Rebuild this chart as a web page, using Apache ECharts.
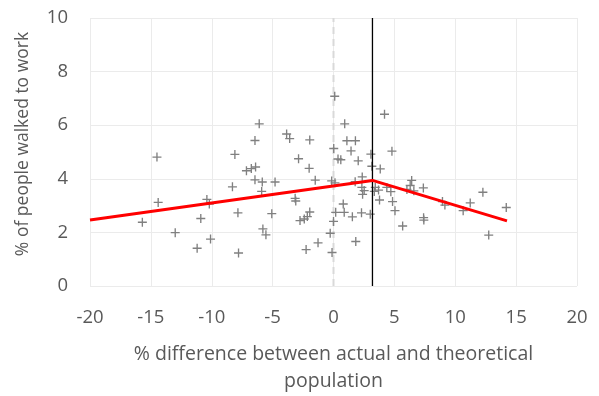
<!DOCTYPE html>
<html>
<head>
<meta charset="utf-8">
<script src="https://cdn.jsdelivr.net/npm/echarts@6/dist/echarts.min.js"></script>
<style>html,body{margin:0;padding:0;background:#fff;}#c{width:599px;height:396px;}</style>
</head>
<body>
<div id="c"></div>
<script>
var xVals = [-15.7,-14.5,-14.4,-13.0,-11.2,-10.9,-10.4,-10.2,-10.1,-8.1,-8.3,-7.85,-7.8,-7.15,-6.75,-6.4,-6.1,-6.45,-6.45,-5.85,-5.9,-4.8,-5.07,-5.8,-5.55,-3.85,-3.6,-1.95,-2.87,-2.0,-1.5,-3.15,-3.1,-1.95,-2.15,-2.4,-2.75,-1.27,-2.25,-0.27,-0.12,0.1,0.02,-0.15,0.12,0.18,0.0,0.37,0.6,0.92,1.1,1.8,1.44,2.03,3.07,3.15,3.84,4.8,4.19,2.36,1.78,0.8,0.88,1.55,2.3,3.02,1.83,2.33,2.52,2.39,3.43,3.35,3.7,4.38,4.71,3.78,4.85,5.05,5.68,6.42,6.3,6.6,6.03,7.38,7.4,7.42,8.95,9.15,10.65,11.23,12.27,12.75,14.19];
var yVals = [2.38,4.81,3.12,1.99,1.41,2.52,3.23,3.06,1.75,4.91,3.7,2.73,1.23,4.3,4.38,4.44,6.05,5.43,3.96,3.88,3.53,3.88,2.7,2.13,1.91,5.67,5.5,5.45,4.75,4.39,3.95,3.27,3.17,2.76,2.59,2.5,2.44,1.61,1.36,1.97,1.25,7.08,5.13,3.92,3.85,2.75,2.41,4.74,4.71,6.05,5.42,5.42,5.04,4.67,4.92,4.47,4.37,5.03,6.41,4.07,3.89,3.06,2.75,2.58,2.73,2.68,1.66,3.68,3.56,3.42,3.68,3.53,3.58,3.68,3.52,3.21,3.15,2.81,2.24,3.94,3.75,3.55,3.6,3.66,2.55,2.46,3.15,3.02,2.81,3.1,3.5,1.9,2.93];
var fitX = [-20, 3.2, 14.25];
var fitY = [2.46, 3.94, 2.43];
var thresholdX = 3.2;
var xTicks = [-20,-15,-10,-5,0,5,10,15,20];
var yTicks = [0,2,4,6,8,10];

var pts = xVals.map(function(x,i){return [x, yVals[i]];});
var fit = fitX.map(function(x,i){return [x, fitY[i]];});
var font = '"Open Sans", "Noto Sans", sans-serif';
var plus = 'path://M3.4,0H4.6V3.4H8V4.6H4.6V8H3.4V4.6H0V3.4H3.4Z';

var chart = echarts.init(document.getElementById('c'), null, {renderer:'canvas'});
chart.setOption({
  animation:false,
  backgroundColor:'#fff',
  grid:{left:90,right:22,top:18,bottom:110,containLabel:false,outerBoundsMode:'none'},
  xAxis:{
    type:'value', min:xTicks[0], max:xTicks[xTicks.length-1], interval:5,
    axisLine:{show:false}, axisTick:{show:false},
    splitLine:{show:true,lineStyle:{color:'#ebebeb',width:1}},
    axisLabel:{color:'#595959',fontSize:18.5,fontFamily:font,margin:22},
    name:'% difference between actual and theoretical\npopulation',
    nameLocation:'middle', nameGap:55,
    nameTextStyle:{color:'#595959',fontSize:19.5,fontFamily:font,lineHeight:27}
  },
  yAxis:{
    type:'value', min:yTicks[0], max:yTicks[yTicks.length-1], interval:2,
    axisLine:{show:false}, axisTick:{show:false},
    splitLine:{show:true,lineStyle:{color:'#ebebeb',width:1}},
    axisLabel:{color:'#595959',fontSize:18.5,fontFamily:font,margin:22},
    name:'% of people walked to work',
    nameLocation:'middle', nameGap:58,
    nameTextStyle:{color:'#595959',fontSize:17.5,fontFamily:font,padding:[0,0,0,16]}
  },
  series:[
    {
      type:'line', data:[[0,0],[0,10]], symbol:'none', silent:true,
      lineStyle:{color:'#d9d9d9',width:2,type:[7,5]}, z:1
    },
    {
      type:'scatter', data:pts, symbol:plus, symbolSize:9,
      itemStyle:{color:'#808080',opacity:1}, z:3
    },
    {
      type:'line', data:[[thresholdX,0],[thresholdX,10]], symbol:'none', silent:true,
      lineStyle:{color:'#000',width:1.3}, z:4
    },
    {
      type:'line', data:fit, symbol:'none', silent:true,
      lineStyle:{color:'#ff0000',width:3}, z:5
    }
  ]
});
</script>
</body>
</html>
